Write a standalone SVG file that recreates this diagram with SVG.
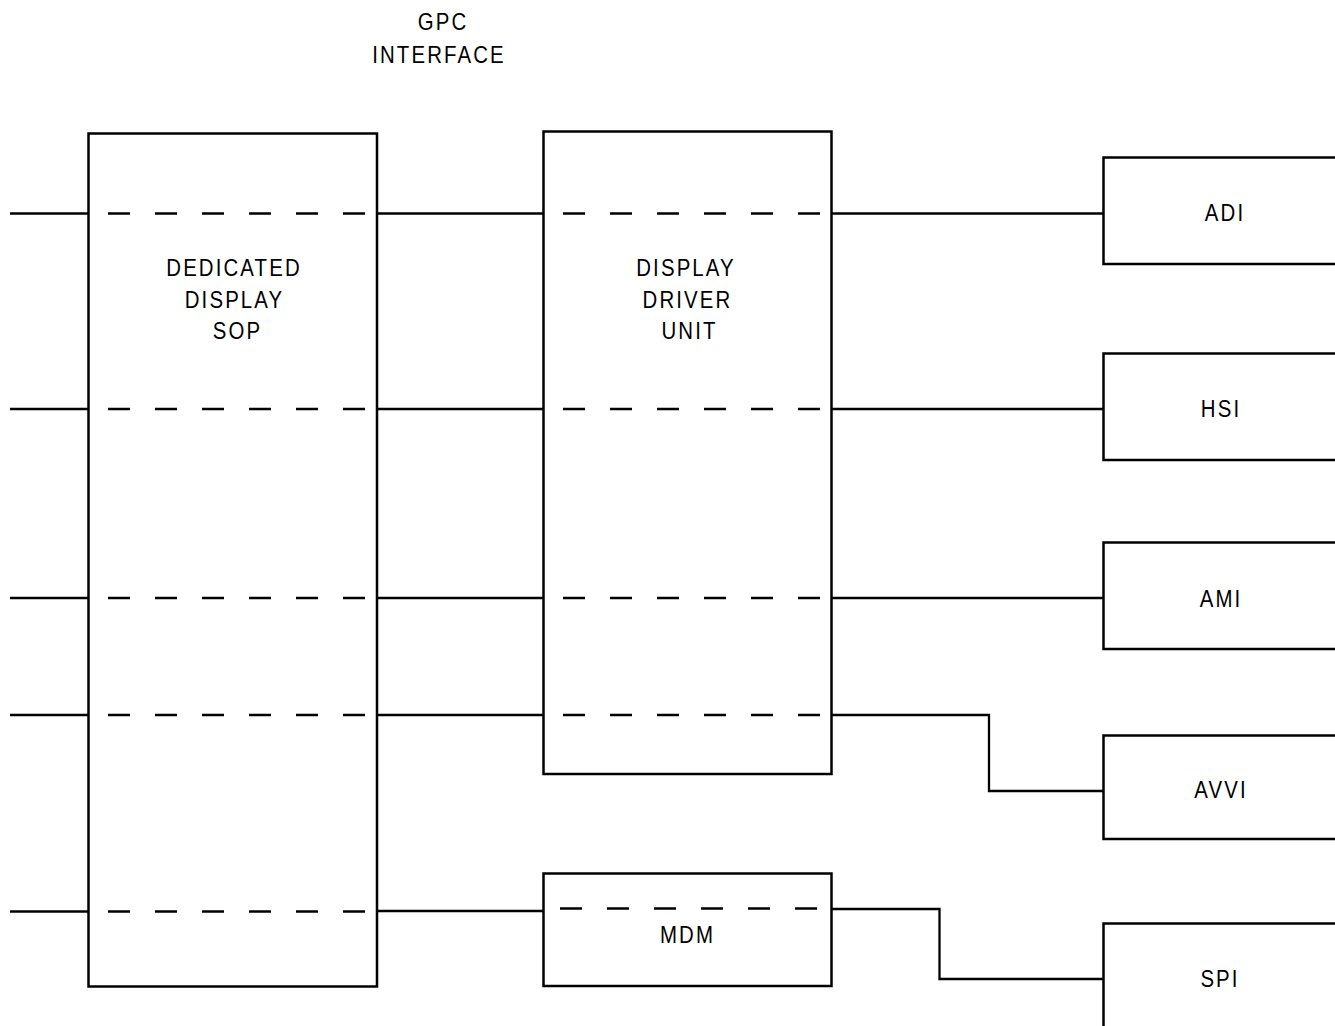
<svg xmlns="http://www.w3.org/2000/svg" width="1335" height="1026" viewBox="0 0 1335 1026">
<style>
.box{fill:none;stroke:#000;stroke-width:2.5}
.ln{fill:none;stroke:#000;stroke-width:2.3}
.dash{fill:none;stroke:#000;stroke-width:2.6;stroke-dasharray:22 25}
.t{font-family:"Liberation Sans",Arial,sans-serif;font-size:24px;letter-spacing:2.5px;text-anchor:middle;fill:#000}
</style>
<rect width="1335" height="1026" fill="#fff"/>
<g id="title">
<text class="t" transform="translate(443,30) scale(0.85,1)">GPC</text>
<text class="t" transform="translate(439,62.5) scale(0.85,1)">INTERFACE</text>
</g>
<g id="sop">
<rect class="box" x="88.5" y="133.5" width="288.5" height="853"/>
<line class="dash" x1="108" y1="213.5" x2="367" y2="213.5"/>
<line class="dash" x1="108" y1="409" x2="367" y2="409"/>
<line class="dash" x1="108" y1="598" x2="367" y2="598"/>
<line class="dash" x1="108" y1="715" x2="367" y2="715"/>
<line class="dash" x1="108" y1="911.5" x2="367" y2="911.5"/>
<text class="t" transform="translate(234,276) scale(0.85,1)">DEDICATED</text>
<text class="t" transform="translate(234.5,308) scale(0.85,1)">DISPLAY</text>
<text class="t" transform="translate(237.5,339) scale(0.85,1)">SOP</text>
</g>
<g id="ddu">
<rect class="box" x="543.5" y="131.5" width="288" height="642.5"/>
<line class="dash" x1="563" y1="213.5" x2="822" y2="213.5"/>
<line class="dash" x1="563" y1="409" x2="822" y2="409"/>
<line class="dash" x1="563" y1="598" x2="822" y2="598"/>
<line class="dash" x1="563" y1="715" x2="822" y2="715"/>
<text class="t" transform="translate(686,276) scale(0.85,1)">DISPLAY</text>
<text class="t" transform="translate(687.5,308) scale(0.85,1)">DRIVER</text>
<text class="t" transform="translate(689.5,339) scale(0.85,1)">UNIT</text>
</g>
<g id="mdm">
<rect class="box" x="543.5" y="873.5" width="288" height="112.5"/>
<line class="dash" x1="560" y1="908.5" x2="819" y2="908.5"/>
<text class="t" transform="translate(687.5,943) scale(0.85,1)">MDM</text>
</g>
<g id="adi">
<polyline class="box" points="1340,157.5 1103.5,157.5 1103.5,264 1340,264"/>
<text class="t" transform="translate(1225,221) scale(0.85,1)">ADI</text>
</g>
<g id="hsi">
<polyline class="box" points="1340,353.5 1103.5,353.5 1103.5,460 1340,460"/>
<text class="t" transform="translate(1221,417) scale(0.85,1)">HSI</text>
</g>
<g id="ami">
<polyline class="box" points="1340,542.5 1103.5,542.5 1103.5,649 1340,649"/>
<text class="t" transform="translate(1221,607) scale(0.85,1)">AMI</text>
</g>
<g id="avvi">
<polyline class="box" points="1340,735.5 1103.5,735.5 1103.5,839 1340,839"/>
<text class="t" transform="translate(1221,798) scale(0.85,1)">AVVI</text>
</g>
<g id="spi">
<polyline class="box" points="1340,923.5 1103.5,923.5 1103.5,1030"/>
<text class="t" transform="translate(1220,987) scale(0.85,1)">SPI</text>
</g>
<g id="connectors">
<line class="ln" x1="10" y1="213.5" x2="88.5" y2="213.5"/>
<line class="ln" x1="10" y1="409" x2="88.5" y2="409"/>
<line class="ln" x1="10" y1="598" x2="88.5" y2="598"/>
<line class="ln" x1="10" y1="715" x2="88.5" y2="715"/>
<line class="ln" x1="10" y1="911.5" x2="88.5" y2="911.5"/>
<line class="ln" x1="377" y1="213.5" x2="543.5" y2="213.5"/>
<line class="ln" x1="377" y1="409" x2="543.5" y2="409"/>
<line class="ln" x1="377" y1="598" x2="543.5" y2="598"/>
<line class="ln" x1="377" y1="715" x2="543.5" y2="715"/>
<line class="ln" x1="377" y1="911" x2="543.5" y2="911"/>
<line class="ln" x1="831.5" y1="213.5" x2="1103.5" y2="213.5"/>
<line class="ln" x1="831.5" y1="409" x2="1103.5" y2="409"/>
<line class="ln" x1="831.5" y1="598" x2="1103.5" y2="598"/>
<polyline class="ln" points="831.5,715 989,715 989,791 1103.5,791"/>
<polyline class="ln" points="831.5,909 939.5,909 939.5,979 1103.5,979"/>
</g>
</svg>
